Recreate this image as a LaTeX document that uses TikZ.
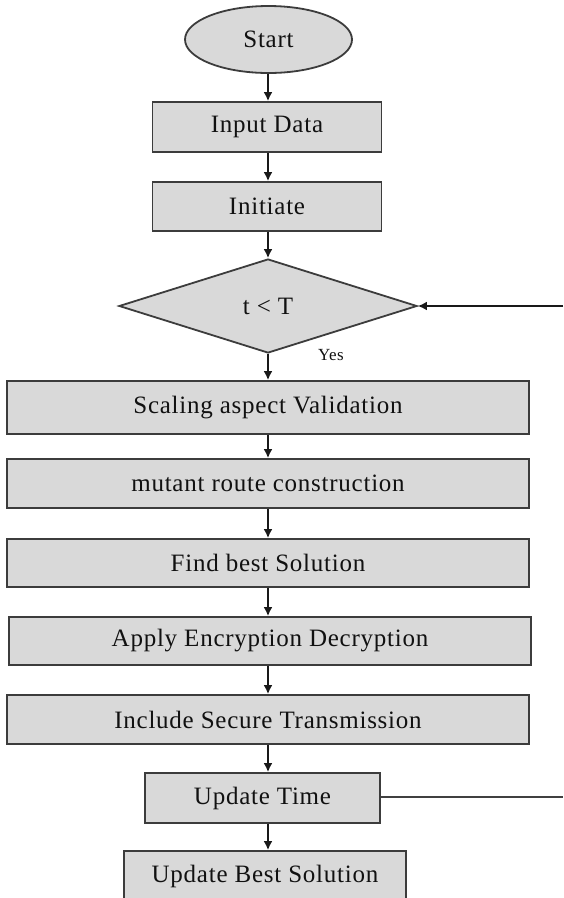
\documentclass[tikz,border=0pt]{standalone}
\usepackage{fontspec}
\setmainfont{Liberation Serif}[LetterSpace=3]
\usetikzlibrary{shapes.geometric,arrows.meta}
\definecolor{boxfill}{HTML}{D9D9D9}
\definecolor{boxline}{HTML}{3C3C3C}
\definecolor{txt}{HTML}{111111}
\tikzset{
  every node/.style={font=\fontsize{25}{29}\selectfont, text=txt},
  procbox/.style={rectangle, draw=boxline, fill=boxfill, line width=1.8pt, inner sep=0pt},
  termbox/.style={ellipse, draw=boxline, fill=boxfill, line width=1.8pt, inner sep=0pt, minimum width=167pt, minimum height=67pt},
  decbox/.style={diamond, draw=boxline, fill=boxfill, line width=1.8pt, inner sep=0pt, minimum width=298pt, minimum height=94pt, shape aspect=3.17},
  arr/.style={draw=black!90, line width=1.8pt, -{Latex[length=9pt,width=9pt]}},
  plainline/.style={draw=black!75, line width=1.6pt}
}
\begin{document}
\begin{tikzpicture}[x=1pt,y=-1pt]
\useasboundingbox (0,0) rectangle (563,898);
\fill[white] (0,0) rectangle (563,898);
\begin{scope}
\clip (0,0) rectangle (563,898);
\node[termbox] (start) at (268.5,39.5) {Start};
\node[procbox, minimum width=229pt, minimum height=50pt] (input) at (267,127) {Input Data};
\node[procbox, minimum width=229pt, minimum height=49pt] (init) at (267,206.5) {Initiate};
\node[decbox] (dec) at (268,306) {t < T};
\node[procbox, minimum width=522pt, minimum height=53pt] (scal) at (268,407.5) {Scaling aspect Validation};
\node[procbox, minimum width=522pt, minimum height=49pt] (mut) at (268,483.5) {mutant route construction};
\node[procbox, minimum width=522pt, minimum height=48pt] (find) at (268,563) {Find best Solution};
\node[procbox, minimum width=522pt, minimum height=48pt] (apply) at (270,641) {Apply Encryption Decryption};
\node[procbox, minimum width=522pt, minimum height=49pt] (incl) at (268,719.5) {Include Secure Transmission};
\node[procbox, minimum width=235pt, minimum height=50pt] (upt) at (262.5,798) {Update Time};
\node[procbox, minimum width=282pt, minimum height=50pt] (upb) at (265,876) {Update Best Solution};
\node[font=\fontsize{17}{20}\selectfont] (yes) at (331,355) {Yes};
\coordinate (loopin) at (563,306);
\coordinate (loopout) at (563,797);

\draw[arr] (dec.south |- start.south) -- (dec.south |- input.north);
\draw[arr] (dec.south |- input.south) -- (dec.south |- init.north);
\draw[arr] (dec.south |- init.south) -- (dec.north);
\draw[arr] (dec.south) -- (dec.south |- scal.north);
\draw[arr] (scal.south) -- (mut.north);
\draw[arr] (mut.south) -- (find.north);
\draw[arr] (find.south) -- (find.south |- apply.north);
\draw[arr] (find.south |- apply.south) -- (incl.north);
\draw[arr] (incl.south) -- (incl.south |- upt.north);
\draw[arr] (incl.south |- upt.south) -- (incl.south |- upb.north);
\draw[plainline] (upt.east |- loopout) -- (loopout);
\draw[arr] (loopin) -- (dec.east);
\end{scope}
\end{tikzpicture}
\end{document}
